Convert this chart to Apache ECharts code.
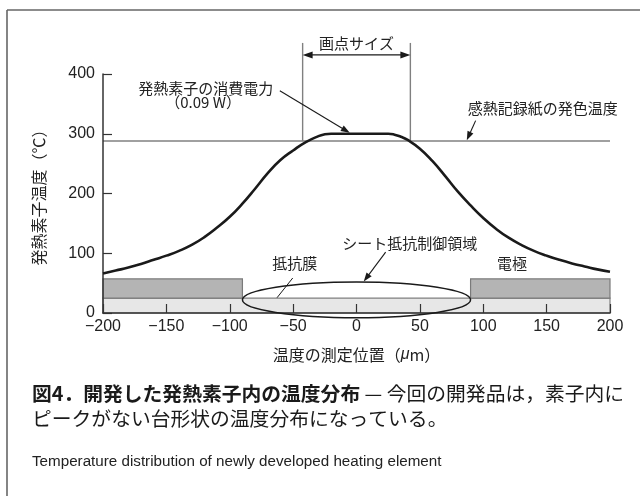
<!DOCTYPE html>
<html>
<head>
<meta charset="utf-8">
<script src="https://cdn.jsdelivr.net/npm/echarts@6/dist/echarts.min.js"></script>
<style>
  html, body { margin: 0; padding: 0; background: #fff; }
  #chart { width: 640px; height: 496px; }
</style>
</head>
<body>
<div id="chart"></div>
<script>
// Temperature profile across the heating element (position in µm, temperature in °C)
const positions = [-200, -190, -180, -170, -160, -150, -140, -130, -120, -110, -100, -90, -80, -70, -60, -50, -40, -30, -25, -20, -10, 0, 10, 20, 25, 30, 35, 40, 50, 60, 70, 80, 90, 100, 110, 120, 130, 140, 150, 160, 170, 180, 190, 200];
const temperatures = [66, 71, 76, 82, 89, 96, 104, 114, 127, 143, 161, 183, 208, 234, 256, 272, 286, 296, 299, 300, 300, 300, 300, 300, 300, 298.5, 295, 290, 275, 254, 229, 203, 180, 159, 141, 126, 114, 104, 96, 89, 83, 78, 73, 69];

// Colour-development temperature of the thermal paper (°C)
const colorTemp = 288;

// Element cross-section: [x start, x end, y bottom, y top]
const filmLayer = [[-200, 200, 0, 25]];
const electrodes = [[-200, -90, 25, 57], [90, 200, 25, 57]];
// Sheet-resistance controlled region: [cx, cy, rx, ry]
const controlRegion = [[0, 22, 90, 30]];

// Dot size span (µm)
const dotSize = [-42.5, 42.5];

// Axis ticks
const xTicks = { min: -200, max: 200, step: 50 };
const yTicks = { min: 0, max: 400, step: 100 };

// Annotation texts and where they sit (data coordinates)
const noteTexts = [
  ['画点サイズ', 0, 452],
  ['発熱素子の消費電力', -119, 376],
  ['（0.09 W）', -121, 353],
  ['感熱記録紙の発色温度', 147, 343],
  ['シート抵抗制御領域', 42, 117],
  ['抵抗膜', -48.7, 84],
  ['電極', 122.6, 84]
];
// Arrows: [x0, y0, x1 (tip), y1 (tip)]
const arrows = [
  [-60.5, 372, -5.3, 301.5],
  [94, 322, 87, 289],
  [23, 102, 5.7, 52.7]
];
// Leader lines ending in a dot: [x0, y0, x1, y1]
const leaders = [
  [-50.3, 58.6, -67.9, 11.7],
  [118.4, 56.4, 106.6, 39.7]
];

const JP = '"Noto Sans CJK JP", sans-serif';
const LAT = '"Liberation Sans", Arial, sans-serif';
const INK = '#1a1a1a';

const chart = echarts.init(document.getElementById('chart'), null, { renderer: 'canvas' });

function rectSeries(data, fill, stroke) {
  return {
    type: 'custom',
    coordinateSystem: 'cartesian2d',
    z: 1,
    silent: true,
    data: data,
    renderItem: function (params, api) {
      const p0 = api.coord([api.value(0), api.value(3)]);
      const p1 = api.coord([api.value(1), api.value(2)]);
      return {
        type: 'rect',
        shape: { x: p0[0], y: p0[1], width: p1[0] - p0[0], height: p1[1] - p0[1] },
        style: { fill: fill, stroke: stroke, lineWidth: 1.2 }
      };
    }
  };
}

const axisCommon = {
  z: 5,
  axisLine: { onZero: false, lineStyle: { color: '#333', width: 1.5 } },
  axisTick: { inside: true, length: 9, lineStyle: { color: '#333', width: 1.2 } },
  splitLine: { show: false },
  nameTextStyle: { fontFamily: JP, fontSize: 16, color: '#222' }
};

chart.setOption({
  animation: false,
  backgroundColor: '#fff',
  grid: { left: 103, right: 30, top: 74, bottom: 183 },
  xAxis: Object.assign({}, axisCommon, {
    type: 'value',
    min: xTicks.min, max: xTicks.max, interval: xTicks.step,
    name: '温度の測定位置（{i|μ}m）',
    nameLocation: 'middle',
    nameGap: 34,
    nameTextStyle: { fontFamily: JP, fontSize: 16, color: '#222', rich: { i: { fontFamily: LAT, fontStyle: 'italic', fontSize: 16, color: '#222' } } },
    axisLabel: { fontFamily: LAT, fontSize: 16, color: '#222', margin: 6,
      formatter: v => v < 0 ? '\u2212' + (-v) : String(v) }
  }),
  yAxis: Object.assign({}, axisCommon, {
    type: 'value',
    min: yTicks.min, max: yTicks.max, interval: yTicks.step,
    name: '発熱素子温度（℃）',
    nameLocation: 'middle',
    nameGap: 56,
    axisLabel: { fontFamily: LAT, fontSize: 16, color: '#222', margin: 8 }
  }),
  series: [
    rectSeries(filmLayer, '#e7e7e7', '#808080'),
    rectSeries(electrodes, '#b4b4b4', '#7a7a7a'),
    {
      type: 'custom',
      coordinateSystem: 'cartesian2d',
      z: 6,
      silent: true,
      data: controlRegion,
      renderItem: function (params, api) {
        const c = api.coord([api.value(0), api.value(1)]);
        const s = api.size([api.value(2), api.value(3)]);
        return {
          type: 'ellipse',
          shape: { cx: c[0], cy: c[1], rx: s[0], ry: s[1] },
          style: { fill: 'none', stroke: INK, lineWidth: 1.5 }
        };
      }
    },
    {
      type: 'line',
      z: 3,
      silent: true,
      showSymbol: false,
      data: [[xTicks.min, colorTemp], [xTicks.max, colorTemp]],
      lineStyle: { color: '#808080', width: 1.5 }
    },
    {
      type: 'line',
      z: 7,
      silent: true,
      showSymbol: false,
      smooth: 0.5,
      data: positions.map((x, i) => [x, temperatures[i]]),
      lineStyle: { color: INK, width: 2.6 }
    }
  ]
});

// Annotation layer, positioned through the grid's scales
function px(x, y) { return chart.convertToPixel({ gridIndex: 0 }, [x, y]); }

function arrowHead(tip, from, len, half, color) {
  const dx = tip[0] - from[0], dy = tip[1] - from[1];
  const L = Math.hypot(dx, dy);
  const ux = dx / L, uy = dy / L;
  const bx = tip[0] - ux * len, by = tip[1] - uy * len;
  return {
    type: 'polygon',
    silent: true,
    shape: { points: [tip, [bx - uy * half, by + ux * half], [bx + uy * half, by - ux * half]] },
    style: { fill: color }
  };
}

function lineTo(a, b, color, width) {
  return { type: 'line', silent: true, shape: { x1: a[0], y1: a[1], x2: b[0], y2: b[1] }, style: { stroke: color, lineWidth: width } };
}

const elements = [];

// Frame
elements.push(lineTo([7, 10], [640, 10], '#666', 1.6));
elements.push(lineTo([7, 10], [7, 496], '#666', 1.6));

// Dot-size span
const spanTop = 452, spanArrow = 432;
dotSize.forEach(x => elements.push(lineTo(px(x, colorTemp), px(x, spanTop), '#808080', 1.4)));
{
  const a = px(dotSize[0], spanArrow), b = px(dotSize[1], spanArrow);
  elements.push(lineTo([a[0] + 8, a[1]], [b[0] - 8, b[1]], INK, 1.3));
  elements.push(arrowHead(a, b, 10, 3.5, INK));
  elements.push(arrowHead(b, a, 10, 3.5, INK));
}

// Arrows
arrows.forEach(r => {
  const a = px(r[0], r[1]), t = px(r[2], r[3]);
  const dx = t[0] - a[0], dy = t[1] - a[1], L = Math.hypot(dx, dy);
  elements.push(lineTo(a, [t[0] - dx / L * 8, t[1] - dy / L * 8], INK, 1.1));
  elements.push(arrowHead(t, a, 9, 3.2, INK));
});

// Leader lines with dots
leaders.forEach(r => {
  const a = px(r[0], r[1]), d = px(r[2], r[3]);
  elements.push(lineTo(a, d, INK, 1.0));
  elements.push({ type: 'circle', silent: true, shape: { cx: d[0], cy: d[1], r: 2.2 }, style: { fill: INK } });
});

// Annotation texts
noteTexts.forEach(t => {
  const p = px(t[1], t[2]);
  elements.push({
    type: 'text', silent: true, x: p[0], y: p[1],
    style: { text: t[0], fontFamily: JP, fontSize: 15, fill: '#222', align: 'center', verticalAlign: 'middle' }
  });
});

// Caption
elements.push({
  type: 'text', silent: true, x: 32, y: 393,
  style: {
    text: '{b|図4．開発した発熱素子内の温度分布}{r| — 今回の開発品は，素子内に}',
    verticalAlign: 'middle',
    rich: {
      b: { fontFamily: JP, fontWeight: 'bold', fontSize: 19.8, fill: '#1a1a1a' },
      r: { fontFamily: JP, fontSize: 19.8, fill: '#1a1a1a' }
    }
  }
});
elements.push({
  type: 'text', silent: true, x: 32, y: 418,
  style: { text: 'ピークがない台形状の温度分布になっている。', fontFamily: JP, fontSize: 19.8, fill: '#1a1a1a', verticalAlign: 'middle' }
});
elements.push({
  type: 'text', silent: true, x: 32, y: 462,
  style: { text: 'Temperature distribution of newly developed heating element', fontFamily: LAT, fontSize: 15.2, fill: '#222', verticalAlign: 'middle' }
});

chart.setOption({ graphic: { elements: elements } });
</script>
</body>
</html>
